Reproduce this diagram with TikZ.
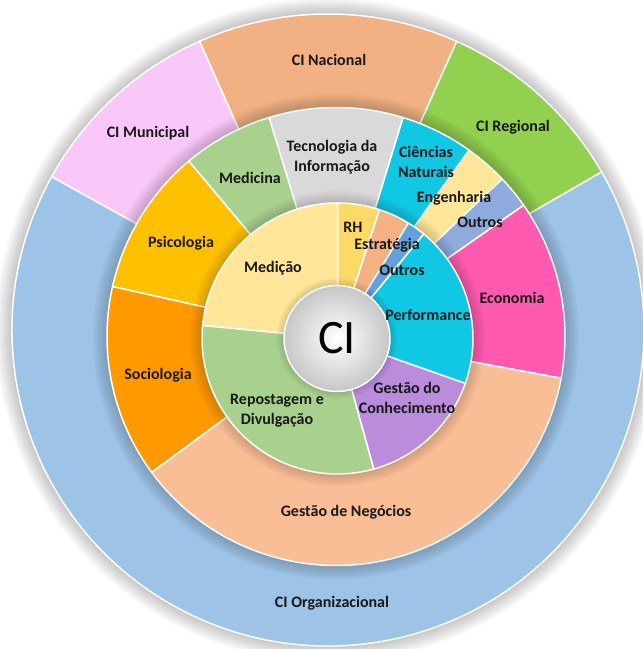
\documentclass[tikz,border=0pt]{standalone}
\usepackage{fontspec}
\setmainfont{Carlito}
\usepackage{xcolor}
\usepackage{tikz}
\usetikzlibrary{positioning,calc}

\definecolor{txt}{RGB}{25,25,25}
\definecolor{cNac}{RGB}{241,177,131}
\definecolor{cMun}{RGB}{249,200,249}
\definecolor{cReg}{RGB}{146,208,80}
\definecolor{cOrg}{RGB}{157,195,230}
\definecolor{cTec}{RGB}{217,217,217}
\definecolor{cCie}{RGB}{17,200,228}
\definecolor{cEng}{RGB}{255,230,153}
\definecolor{cOut}{RGB}{143,170,220}
\definecolor{cEco}{RGB}{255,90,175}
\definecolor{cNeg}{RGB}{250,190,150}
\definecolor{cSoc}{RGB}{255,153,0}
\definecolor{cPsi}{RGB}{255,192,0}
\definecolor{cMed}{RGB}{169,209,142}
\definecolor{cRH}{RGB}{255,217,102}
\definecolor{cEst}{RGB}{244,177,131}
\definecolor{cOutr}{RGB}{100,160,220}
\definecolor{cPer}{RGB}{17,200,228}
\definecolor{cCon}{RGB}{185,140,220}
\definecolor{cRep}{RGB}{169,209,142}
\definecolor{cMdc}{RGB}{255,230,153}

\begin{document}
\begin{tikzpicture}[x=1pt,y=1pt,
   seg/.style={fill=#1,draw=white,line width=1.5pt,line join=round},
   halo/.style={fill=black,opacity=0.028},
   lab/.style={font=\bfseries\fontsize{16}{20}\selectfont,text=txt,align=center,inner sep=0pt}]
  \clip (0,0) rectangle (643,649);
  \fill[white] (0,0) rectangle (643,649);
  % anel externo (nivel)
  \foreach \i in {1,...,8}
    \fill[halo] (328,319) circle (316+2*\i);
  \begin{scope}[shift={(328,319)}]
    \foreach \a/\b/\c in {30/66/cReg,66/114/cNac,114/151/cMun,151/390/cOrg}
      \draw[seg=\c] (0,0) -- (\a:316) arc[start angle=\a,end angle=\b,radius=316] -- cycle;
  \end{scope}
  % anel do meio (areas)
  \foreach \i in {1,...,7}
    \fill[halo] (336,312.5) circle (229+2*\i);
  \begin{scope}[shift={(336,312.5)}]
    \foreach \a/\b/\c in {-10.5/35/cEco,35/43.5/cOut,43.5/54.5/cEng,54.5/73/cCie,73/107/cTec,
                          107/130/cMed,130/167.4/cPsi,167.4/216.4/cSoc,216.4/349.5/cNeg}
      \draw[seg=\c] (0,0) -- (\a:229) arc[start angle=\a,end angle=\b,radius=229] -- cycle;
  \end{scope}
  % anel interno (temas)
  \foreach \i in {1,...,6}
    \fill[halo] (337.5,310.5) circle (135.5+2*\i);
  \begin{scope}[shift={(337.5,310.5)}]
    \foreach \a/\b/\c in {-74.5/-19.3/cCon,-19.3/50.5/cPer,50.5/58.5/cOutr,58.5/72/cEst,
                          72/90/cRH,90/174.5/cMdc,174.5/285.5/cRep}
      \draw[seg=\c] (0,0) -- (\a:135.5) arc[start angle=\a,end angle=\b,radius=135.5] -- cycle;
  \end{scope}
  \foreach \i in {1,...,5}
    \fill[halo] (337,310.5) circle (53+1.5*\i);
  \node[circle,minimum size=106pt,inner sep=0pt,draw=white,line width=1.5pt,
        inner color=white,outer color=black!22,
        font=\fontsize{48}{48}\selectfont,text=black] (ci) at (337,310.5) {CI};

  \node[lab] (nac) at (329,589) {CI Nacional};
  \node[lab] (mun) at (148,516) {CI Municipal};
  \node[lab] (reg) at (513,522) {CI Regional};
  \node[lab] (org) at (332,46) {CI Organizacional};

  \node[lab] (tec) at (332,492) {Tecnologia da\\Informação};
  \node[lab] (cie) at (426,487) {Ciências\\Naturais};
  \node[lab] (eng) at (454,451) {Engenharia};
  \node[lab] (out) at (480,427) {Outros};
  \node[lab] (eco) at (512,351) {Economia};
  \node[lab] (neg) at (346,137) {Gestão de Negócios};
  \node[lab] (soc) at (158,274) {Sociologia};
  \node[lab] (psi) at (181,406) {Psicologia};
  \node[lab] (med) at (250,471) {Medicina};

  \node[lab] (rh) at (353,422) {RH};
  \node[lab] (est) at (387,404) {Estratégia};
  \node[lab] (outr) at (402,379) {Outros};
  \node[lab] (per) at (428,334) {Performance};
  \node[lab] (con) at (407,251) {Gestão do\\Conhecimento};
  \node[lab] (rep) at (277,238) {Repostagem e\\Divulgação};
  \node[lab] (mdc) at (273,381) {Medição};
\end{tikzpicture}
\end{document}
